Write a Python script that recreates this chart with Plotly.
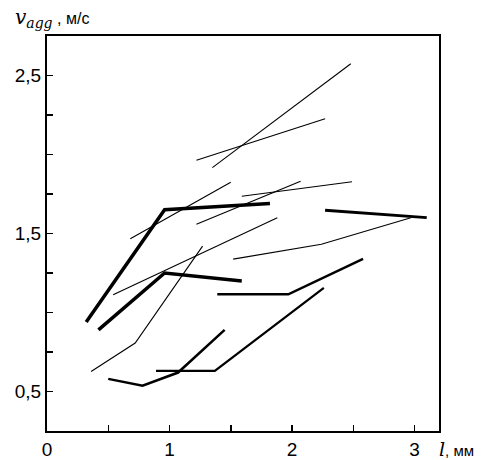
import plotly.graph_objects as go

# Thick curves (l in mm, v_agg in m/s)
t1_x = [0.32, 0.96, 1.82]
t1_y = [0.94, 1.65, 1.69]
t2_x = [0.42, 0.96, 1.59]
t2_y = [0.89, 1.25, 1.20]
t3_x = [1.39, 1.97, 2.58]
t3_y = [1.115, 1.115, 1.34]
t4_x = [0.50, 0.78, 1.07, 1.45]
t4_y = [0.58, 0.537, 0.62, 0.89]
t5_x = [0.89, 1.37, 2.26]
t5_y = [0.63, 0.63, 1.156]
t6_x = [2.27, 3.10]
t6_y = [1.647, 1.60]

# Thin curves
a1_x = [0.36, 0.72, 1.27]
a1_y = [0.627, 0.807, 1.42]
a2_x = [0.54, 1.88]
a2_y = [1.113, 1.60]
a3_x = [0.68, 1.50]
a3_y = [1.467, 1.824]
a4_x = [1.22, 2.07]
a4_y = [1.559, 1.83]
a5_x = [1.59, 2.49]
a5_y = [1.736, 1.828]
a6_x = [1.52, 2.24, 2.97]
a6_y = [1.338, 1.432, 1.60]
b1_x = [1.22, 2.27]
b1_y = [1.963, 2.226]
b2_x = [1.35, 2.48]
b2_y = [1.917, 2.574]

thick = [(t1_x, t1_y, 3.5), (t2_x, t2_y, 3.5), (t3_x, t3_y, 2.5),
         (t4_x, t4_y, 2.5), (t5_x, t5_y, 2.2), (t6_x, t6_y, 2.8)]
thin = [(a1_x, a1_y), (a2_x, a2_y), (a3_x, a3_y), (a4_x, a4_y),
        (a5_x, a5_y), (a6_x, a6_y), (b1_x, b1_y), (b2_x, b2_y)]

x_tickvals = [0, 0.5, 1, 1.5, 2, 2.5, 3]
x_ticktext = ["0", "", "1", "", "2", "", "3"]
y_tickvals = [0.5, 0.75, 1.0, 1.25, 1.5, 1.75, 2.0, 2.25, 2.5]
y_ticktext = ["0,5", "", "", "", "1,5", "", "", "", "2,5"]

fig = go.Figure()
for xs, ys, w in thick:
    fig.add_trace(go.Scatter(x=xs, y=ys, mode="lines",
                             line=dict(color="black", width=w),
                             showlegend=False, hoverinfo="skip"))
for xs, ys in thin:
    fig.add_trace(go.Scatter(x=xs, y=ys, mode="lines",
                             line=dict(color="black", width=1.1),
                             showlegend=False, hoverinfo="skip"))

font = dict(family="Liberation Sans, Arial, sans-serif", size=19, color="black")

fig.update_layout(
    width=481, height=460,
    margin=dict(l=47, r=42, t=36, b=29, autoexpand=False),
    paper_bgcolor="white", plot_bgcolor="white",
    font=font,
    showlegend=False,
    xaxis=dict(range=[0, 3.2], tickvals=x_tickvals, ticktext=x_ticktext,
               ticks="inside", ticklen=6, tickwidth=1.5, tickcolor="black",
               showline=True, linecolor="black", linewidth=2, mirror=True,
               showgrid=False, zeroline=False, tickfont=font, automargin=False),
    yaxis=dict(range=[0.25, 2.75], tickvals=y_tickvals, ticktext=y_ticktext,
               ticks="inside", ticklen=6, tickwidth=1.5, tickcolor="black",
               showline=True, linecolor="black", linewidth=2, mirror=True,
               showgrid=False, zeroline=False, tickfont=font, automargin=False),
)

fig.add_annotation(
    xref="paper", yref="paper", x=-0.088, y=1.046,
    xanchor="left", yanchor="middle", showarrow=False,
    text='<span style="font-family:DejaVu Serif;font-style:italic">v</span>'
         '<sub><span style="font-family:DejaVu Serif;font-style:italic">agg</span></sub>'
         '<span style="font-family:Liberation Sans;font-size:16px"> , м/с</span>',
    font=dict(family="DejaVu Serif", size=20, color="black"),
)
fig.add_annotation(
    xref="paper", yref="paper", x=0.995, y=-0.046,
    xanchor="left", yanchor="middle", showarrow=False,
    text='<span style="font-family:DejaVu Serif;font-style:italic">l</span>'
         '<span style="font-family:Liberation Sans;font-size:15px">, мм</span>',
    font=dict(family="DejaVu Serif", size=19, color="black"),
)

fig.write_html("out.html",
               config={"displayModeBar": False, "staticPlot": True},
               post_script="document.body.style.margin='0';document.body.style.padding='0';")
